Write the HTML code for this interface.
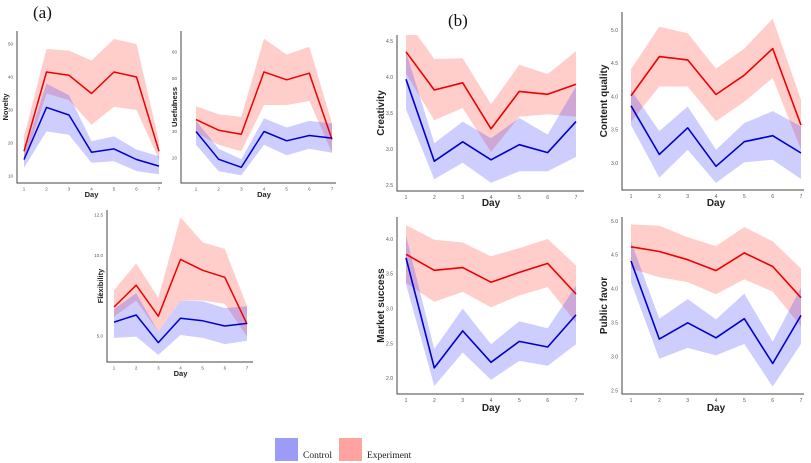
<!DOCTYPE html>
<html><head><meta charset="utf-8">
<style>
body{margin:0;background:#fff;width:811px;height:463px;overflow:hidden;font-family:"Liberation Sans",sans-serif}
svg{display:block}
</style></head>
<body>
<svg id="c" width="811" height="463" viewBox="0 0 811 463" xmlns="http://www.w3.org/2000/svg">
<text x="33" y="18" font-family="Liberation Serif,serif" font-size="17" fill="#111">(a)</text>
<text x="448" y="26" font-family="Liberation Serif,serif" font-size="17" fill="#111">(b)</text>
<rect x="275" y="438" width="23" height="23" fill="#9c9cf7"/>
<text x="303" y="458" font-family="Liberation Serif,serif" font-size="9.5" fill="#222">Control</text>
<rect x="339" y="438" width="23" height="23" fill="#ffa3a0"/>
<text x="367" y="458" font-family="Liberation Serif,serif" font-size="9.5" fill="#222">Experiment</text>
</svg>
<script>
const days=[1,2,3,4,5,6,7];
// Novelty
const novRed=[17.5,41.5,40.5,35,41.5,40,17.5];
const novRedHi=[22,48.5,48,45,51.5,50,20.5];
const novRedLo=[14,35,33,25.5,31,30,15];
const novBlue=[15,30.8,28.5,17.2,18.2,15,13];
const novBlueHi=[17,38,34.5,20.5,22,18,16];
const novBlueLo=[12.5,23.5,22.5,14,14.5,11.5,10.5];
const novTicks=[10,20,30,40,50];
// Usefulness
const useRed=[34.5,30.5,29,52.5,49.5,52,27];
const useRedHi=[39.5,36.5,35.5,65,59,62,33];
const useRedLo=[29.5,25,22.5,40,40,41.5,22];
const useBlue=[30,19.5,16.5,30,26.5,28.5,27.5];
const useBlueHi=[34,23.5,19.5,35,31.5,34,33];
const useBlueLo=[25,15,13.5,25,21,23.5,22];
const useTicks=[20,30,40,50,60];
// Flexibility
const flxRed=[6.8,8.15,6.23,9.75,9.07,8.64,5.74];
const flxRedHi=[7.84,9.5,7.36,12.35,10.8,10.4,6.85];
const flxRedLo=[6.2,7.2,5.27,7.18,7.2,7.0,4.96];
const flxBlue=[5.86,6.3,4.59,6.1,5.94,5.62,5.78];
const flxBlueHi=[6.67,7.65,5.27,7.18,7.15,6.73,6.85];
const flxBlueLo=[4.88,4.96,3.83,5.06,4.88,4.5,4.71];
const flxTicks=[5.0,7.5,10.0,12.5];
// Creativity
const creRed=[4.35,3.82,3.92,3.28,3.80,3.76,3.90];
const creRedHi=[4.8,4.25,4.26,3.62,4.17,4.04,4.36];
const creRedLo=[4.05,3.40,3.57,2.96,3.45,3.48,3.45];
const creBlue=[3.97,2.83,3.10,2.85,3.06,2.95,3.38];
const creBlueHi=[4.35,3.08,3.38,3.15,3.43,3.20,3.87];
const creBlueLo=[3.55,2.58,2.81,2.53,2.69,2.69,2.89];
const creTicks=[2.5,3.0,3.5,4.0,4.5];
// Content quality
const conRed=[4.01,4.60,4.55,4.03,4.32,4.72,3.57];
const conRedHi=[4.41,5.05,4.95,4.42,4.72,5.17,3.95];
const conRedLo=[3.62,4.15,4.15,3.63,3.92,4.28,3.2];
const conBlue=[3.86,3.13,3.53,2.95,3.32,3.41,3.15];
const conBlueHi=[4.1,3.48,3.85,3.2,3.6,3.78,3.55];
const conBlueLo=[3.57,2.78,3.2,2.7,3.01,3.05,2.76];
const conTicks=[3.0,3.5,4.0,4.5,5.0];
// Market success
const mktRed=[3.78,3.55,3.59,3.38,3.52,3.65,3.21];
const mktRedHi=[4.2,3.99,3.95,3.75,3.87,4.0,3.62];
const mktRedLo=[3.37,3.10,3.24,3.02,3.19,3.31,2.8];
const mktBlue=[3.73,2.15,2.68,2.23,2.53,2.45,2.91];
const mktBlueHi=[4.05,2.42,3.0,2.49,2.82,2.72,3.33];
const mktBlueLo=[3.35,1.89,2.37,1.98,2.25,2.18,2.49];
const mktTicks=[2.0,2.5,3.0,3.5,4.0];
// Public favor
const pubRed=[4.62,4.55,4.43,4.27,4.53,4.33,3.87];
const pubRedHi=[4.95,4.93,4.76,4.63,4.91,4.70,4.30];
const pubRedLo=[4.3,4.17,4.1,3.92,4.14,3.96,3.45];
const pubBlue=[4.41,3.26,3.50,3.28,3.56,2.90,3.61];
const pubBlueHi=[4.7,3.56,3.85,3.55,3.93,3.22,4.02];
const pubBlueLo=[4.1,2.97,3.13,3.02,3.19,2.56,3.19];
const pubTicks=[2.5,3.0,3.5,4.0,4.5,5.0];

const NS='http://www.w3.org/2000/svg';
const svg=document.getElementById('c');
function mk(tag,attrs,parent){const e=document.createElementNS(NS,tag);for(const k in attrs)e.setAttribute(k,attrs[k]);(parent||svg).appendChild(e);return e;}

function panel(p){
  const g=mk('g',{});
  
  
  const xs=d=>p.x1+(d-1)*(p.x7-p.x1)/6;
  const ys=v=>p.p1+(v-p.v1)*(p.p2-p.p1)/(p.v2-p.v1);
  const cid='clip-'+p.id;
  const cp=mk('clipPath',{id:cid},g);
  mk('rect',{x:p.L,y:p.T,width:p.R-p.L,height:p.B-p.T},cp);
  const band=(hi,lo,fill,name)=>{
    let d='';
    days.forEach((dd,i)=>{d+=(i?'L':'M')+xs(dd).toFixed(1)+','+ys(hi[i]).toFixed(1);});
    for(let i=days.length-1;i>=0;i--)d+='L'+xs(days[i]).toFixed(1)+','+ys(lo[i]).toFixed(1);
    const e=mk('path',{d:d+'Z',fill:fill,'clip-path':'url(#'+cid+')'},g);
    
    
  };
  const line=(vals,col,name)=>{
    const pts=days.map((dd,i)=>xs(dd).toFixed(1)+','+ys(vals[i]).toFixed(1)).join(' ');
    const e=mk('polyline',{points:pts,fill:'none',stroke:col,'stroke-width':p.lw,'stroke-linejoin':'round'},g);
    
    
  };
  band(p.rHi,p.rLo,'rgba(255,60,50,0.26)','experiment-band');
  band(p.bHi,p.bLo,'rgba(60,60,250,0.26)','control-band');
  line(p.r,'#ee0000','experiment-line');
  line(p.b,'#0000cc','control-line');
  const ax=mk('path',{d:`M${p.L},${p.T}V${p.B}H${p.R}`,fill:'none',stroke:'#444','stroke-width':1},g);
  
  
  p.ticks.forEach(v=>{
    const t=mk('text',{x:p.L-4,y:ys(v)+p.tf/2.8,'text-anchor':'end','font-size':p.tf,fill:'#555'},g);
    t.textContent=p.dec?v.toFixed(1):String(v);
    
    
  });
  days.forEach(d=>{
    const t=mk('text',{x:xs(d),y:p.B+p.tf+3,'text-anchor':'middle','font-size':p.tf,fill:'#555'},g);
    t.textContent=String(d);
    
    
  });
  const xt=mk('text',{x:(p.x1+p.x7)/2,y:p.dayY,'text-anchor':'middle','font-size':p.lf,'font-weight':'bold',fill:'#222'},g);
  xt.textContent='Day';
  
  
  const cy=(p.T+p.B)/2;
  const yt=mk('text',{x:p.ylx,y:cy,'text-anchor':'middle','font-size':p.lf,'font-weight':'bold',fill:'#222',transform:`rotate(-90 ${p.ylx} ${cy})`},g);
  yt.textContent=p.title;
  
  
}
const sa={tf:4.5,lf:7.5,lw:1.5};
const sb={tf:5,lf:10,lw:1.6,dec:true};
panel(Object.assign({id:'novelty',title:'Novelty',L:17,T:31,R:162,B:183,x1:24,x7:159,v1:50,p1:44,v2:10,p2:176,ticks:novTicks,dayY:197,ylx:8,r:novRed,rHi:novRedHi,rLo:novRedLo,b:novBlue,bHi:novBlueHi,bLo:novBlueLo},sa));
panel(Object.assign({id:'usefulness',title:'Usefulness',L:181,T:31,R:336,B:183,x1:196,x7:332,v1:60,p1:52,v2:20,p2:158,ticks:useTicks,dayY:197,ylx:177,r:useRed,rHi:useRedHi,rLo:useRedLo,b:useBlue,bHi:useBlueHi,bLo:useBlueLo},sa));
panel(Object.assign({id:'flexibility',title:'Flexibility',L:107,T:210,R:253,B:362,x1:114,x7:247,v1:12.5,p1:215,v2:5.0,p2:336,ticks:flxTicks,dayY:376,ylx:103,dec:true,r:flxRed,rHi:flxRedHi,rLo:flxRedLo,b:flxBlue,bHi:flxBlueHi,bLo:flxBlueLo},sa));
panel(Object.assign({id:'creativity',title:'Creativity',L:397,T:35,R:584,B:191,x1:406,x7:576,v1:4.5,p1:41,v2:2.5,p2:185,ticks:creTicks,dayY:206,ylx:384,r:creRed,rHi:creRedHi,rLo:creRedLo,b:creBlue,bHi:creBlueHi,bLo:creBlueLo},sb));
panel(Object.assign({id:'content-quality',title:'Content quality',L:622,T:12,R:804,B:190,x1:631,x7:801,v1:5.0,p1:30,v2:3.0,p2:163,ticks:conTicks,dayY:206,ylx:607,r:conRed,rHi:conRedHi,rLo:conRedLo,b:conBlue,bHi:conBlueHi,bLo:conBlueLo},sb));
panel(Object.assign({id:'market-success',title:'Market success',L:397,T:217,R:584,B:394,x1:406,x7:576,v1:4.0,p1:239,v2:2.0,p2:378.3,ticks:mktTicks,dayY:411,ylx:384,r:mktRed,rHi:mktRedHi,rLo:mktRedLo,b:mktBlue,bHi:mktBlueHi,bLo:mktBlueLo},sb));
panel(Object.assign({id:'public-favor',title:'Public favor',L:622,T:217,R:804,B:394,x1:631,x7:801,v1:5.0,p1:221,v2:2.5,p2:390.7,ticks:pubTicks,dayY:411,ylx:607,r:pubRed,rHi:pubRedHi,rLo:pubRedLo,b:pubBlue,bHi:pubBlueHi,bLo:pubBlueLo},sb));
</script>
</body></html>
